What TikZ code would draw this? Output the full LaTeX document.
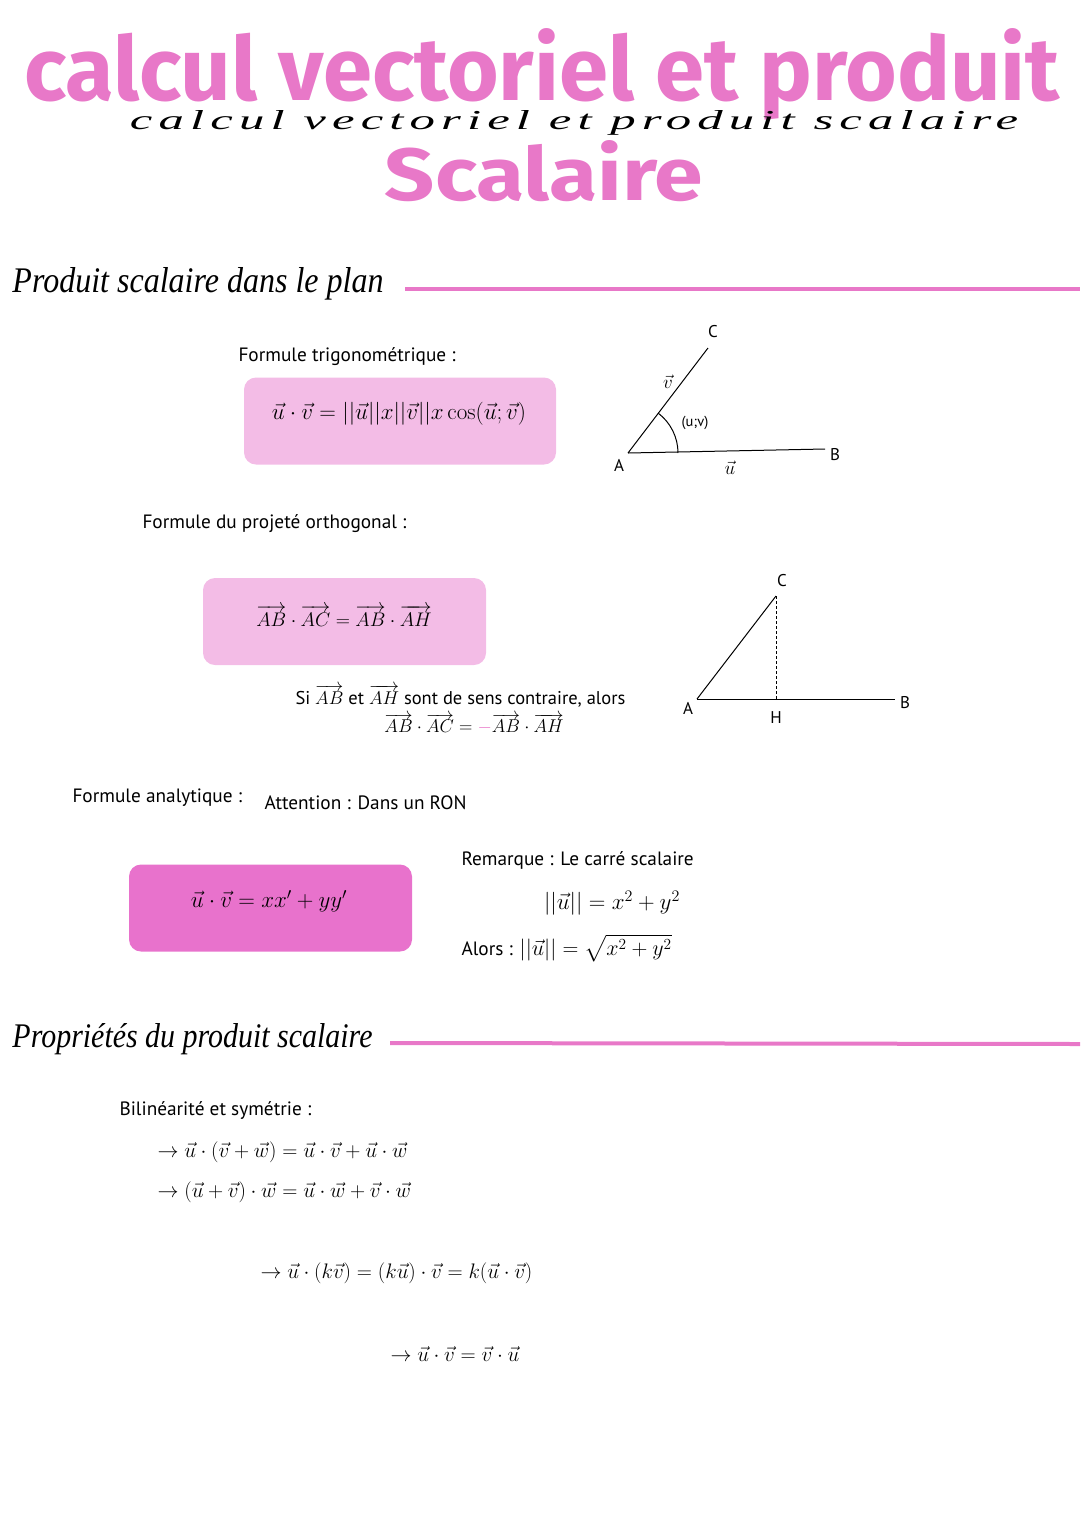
\RequirePackage{fix-cm}
\documentclass[tikz,border=0pt]{standalone}
\usepackage{amsmath}
\usepackage{amssymb}
\usepackage[no-math]{fontspec}
\usepackage{graphicx}
\setmainfont{PT Sans}
\newfontfamily\titlefont{Fira Sans}
\newfontfamily\cursfont{Liberation Serif}
\newfontfamily\lightcurs{Liberation Serif}[LetterSpace=12]
\usetikzlibrary{positioning,calc}
\definecolor{titlepink}{HTML}{E878C8}
\definecolor{boxpink}{HTML}{F3BCE6}
\definecolor{boxrose}{HTML}{E872CC}
\newcommand{\fm}[2][21]{{\fontsize{#1}{#1}\selectfont$#2$}}

\begin{document}
\begin{tikzpicture}[x=1pt,y=-1pt,line width=1pt,
  txt/.style={anchor=west,inner sep=0pt,font=\fontsize{19.3}{23}\selectfont},
  formula/.style={inner sep=0pt,font=\fontsize{#1}{#1}\selectfont},
  formula/.default=19,
  lbl/.style={inner sep=0pt,font=\fontsize{17}{20}\selectfont},
  formbox/.style={rounded corners=12pt,minimum width=#1,minimum height=87pt,inner sep=0pt},
  rule/.style={titlepink,line width=4pt}]

      \useasboundingbox (0,0) rectangle (1080,1527);

      % titre
      \path (542,100) node[anchor=base,inner sep=0pt,text=titlepink] (titre)
        {\resizebox{1035pt}{72pt}{\titlefont\bfseries calcul vectoriel et produit}};
      \path (574,129) node[anchor=base,inner sep=0pt] (soustitre)
        {\resizebox{888pt}{19pt}{\lightcurs\itshape calcul vectoriel et produit scalaire}};
      \path (544,200) node[anchor=base,inner sep=0pt,text=titlepink] (scalaire)
        {\resizebox{318pt}{60pt}{\titlefont\bfseries Scalaire}};

      % produit scalaire dans le plan
      \path (12,292) node[anchor=base west,inner sep=0pt] (plan)
        {\resizebox{371pt}{25pt}{\cursfont\itshape Produit scalaire dans le plan}};
      \coordinate (r1a) at (405,289);
      \coordinate (r1b) at (1080,289);
      \draw[rule] (r1a) -- (r1b);

      \path (238,357) node[txt] (trigo) {Formule trigonométrique :};
      \path (400,421) node[formbox=312pt,fill=boxpink] (box1) {};
      \path (399,414) node[formula=23] (f1)
        {$\vec{u}\cdot\vec{v} = ||\vec{u}||x||\vec{v}||x\cos(\vec{u};\vec{v})$};

      \coordinate (A1) at (628,453);
      \coordinate (B1) at (825,449);
      \coordinate (C1) at (708,348);
      \draw (A1) -- (B1);
      \draw (A1) -- (C1);
      \draw (A1) ++(50,0) arc[start angle=0,end angle=-53,radius=50];
      \path (713,332) node[lbl] (lC1) {C};
      \path (619,465) node[lbl] (lA1) {A};
      \path (835,455) node[lbl] (lB1) {B};
      \path (668,382) node[formula] (lv1) {$\vec{v}$};
      \path (730,468) node[formula] (lu1) {$\vec{u}$};
      \path (695,423) node[lbl,font=\fontsize{14.5}{16}\selectfont] (luv) {(u;v)};

      \path (142,524) node[txt] (proj) {Formule du projeté orthogonal :};
      \path (344.5,621.5) node[formbox=283pt,fill=boxpink] (box2) {};
      \path (344,616) node[formula=19.7] (f2)
        {$\overrightarrow{AB}\cdot\overrightarrow{AC} = \overrightarrow{AB}\cdot\overrightarrow{AH}$};

      \coordinate (A2) at (697,699);
      \coordinate (B2) at (895,699);
      \coordinate (C2) at (776,596);
      \coordinate (H2) at (776,699);
      \draw (A2) -- (B2);
      \draw (A2) -- (C2);
      \draw[line width=0.8pt,dash pattern=on 3pt off 2pt] (C2) -- (H2);
      \path (782,581) node[lbl] (lC2) {C};
      \path (688,708) node[lbl] (lA2) {A};
      \path (905,703) node[lbl] (lB2) {B};
      \path (776,718) node[lbl] (lH2) {H};

      \path (295,696) node[txt,font=\fontsize{18.5}{22}\selectfont] (sens)
        {Si $\overrightarrow{AB}$ et $\overrightarrow{AH}$ sont de sens contraire, alors};
      \path (474,724) node[formula=18.5] (f2b)
        {$\overrightarrow{AB}\cdot\overrightarrow{AC} = {\color{titlepink}-}\overrightarrow{AB}\cdot\overrightarrow{AH}$};

      \path (72,798) node[txt] (analy) {Formule analytique :};
      \path (264,803) node[txt] (ron) {Attention : Dans un RON};

      \path (461,860) node[txt] (rq) {Remarque : Le carré scalaire};
      \path (270.5,908) node[formbox=283pt,fill=boxrose] (box3) {};
      \path (269,901) node[formula=23] (f3) {$\vec{u}\cdot\vec{v} = xx' + yy'$};
      \path (612,903) node[formula=23] (f4) {$||\vec{u}|| = x^2 + y^2$};
      \path (461,948) node[txt] (alors) {Alors : \fm[22]{||\vec{u}|| = \sqrt{x^2 + y^2}}};

      % proprietes du produit scalaire
      \path (12,1047) node[anchor=base west,inner sep=0pt] (prop)
        {\resizebox{360pt}{24pt}{\cursfont\itshape Propriétés du produit scalaire}};
      \coordinate (r2a) at (390,1043);
      \coordinate (r2b) at (1080,1044);
      \draw[rule] (r2a) -- (r2b);

      \path (119,1111) node[txt] (bili) {Bilinéarité et symétrie :};
      \path (157,1152) node[txt] (p1)
        {\fm{\rightarrow \vec{u}\cdot(\vec{v}+\vec{w}) = \vec{u}\cdot\vec{v}+\vec{u}\cdot\vec{w}}};
      \path (157,1192) node[txt] (p2)
        {\fm{\rightarrow (\vec{u}+\vec{v})\cdot\vec{w} = \vec{u}\cdot\vec{w}+\vec{v}\cdot\vec{w}}};
      \path (260,1273) node[txt] (p3)
        {\fm{\rightarrow \vec{u}\cdot(k\vec{v}) = (k\vec{u})\cdot\vec{v} = k(\vec{u}\cdot\vec{v})}};
      \path (390,1354) node[txt] (p4)
        {\fm{\rightarrow \vec{u}\cdot\vec{v} = \vec{v}\cdot\vec{u}}};

    \end{tikzpicture}
\end{document}
